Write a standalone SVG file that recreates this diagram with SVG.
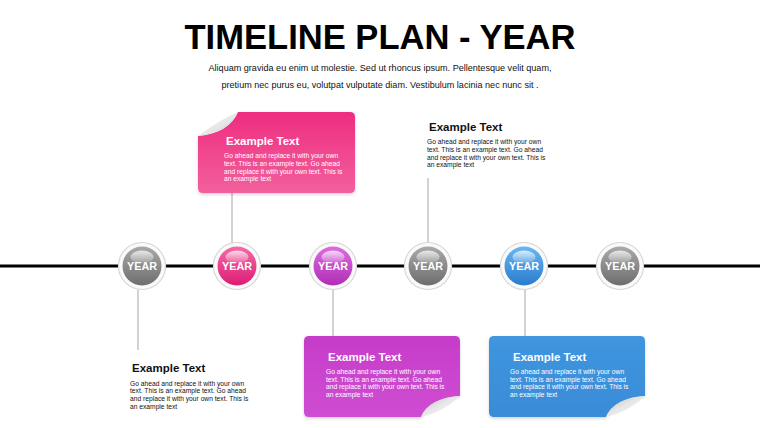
<svg xmlns="http://www.w3.org/2000/svg" width="760" height="428" viewBox="0 0 760 428">
<defs>
<style>
.title{font-family:"Liberation Sans",Arial,sans-serif;font-weight:bold;font-size:34.5px;fill:#000}
.sub{font-family:"Liberation Sans",Arial,sans-serif;font-size:9.3px;fill:#111}
.hd{font-family:"Liberation Sans",Arial,sans-serif;font-weight:bold;font-size:11.5px}
.bd{font-family:"Liberation Sans",Arial,sans-serif;font-size:6.7px}
.w{fill:#fff}
.k{fill:#111}
.yr{font-family:"Liberation Sans",Arial,sans-serif;font-weight:bold;font-size:10.8px;fill:#fff;text-anchor:middle}
.ring{fill:#fafafa;stroke:#d6d6d6;stroke-width:1.2}
.gloss{fill:url(#gloss)}
.conn{stroke:#a6a6a6;stroke-width:1;fill:none}
</style>
<linearGradient id="gGray" x1="0" y1="0" x2="0" y2="1"><stop offset="0" stop-color="#a9a9a9"/><stop offset="1" stop-color="#6e6e6e"/></linearGradient>
<linearGradient id="gPink" x1="0" y1="0" x2="0" y2="1"><stop offset="0" stop-color="#f56aa8"/><stop offset="1" stop-color="#dc1c74"/></linearGradient>
<linearGradient id="gPurple" x1="0" y1="0" x2="0" y2="1"><stop offset="0" stop-color="#dc6ce0"/><stop offset="1" stop-color="#b02eb6"/></linearGradient>
<linearGradient id="gBlue" x1="0" y1="0" x2="0" y2="1"><stop offset="0" stop-color="#68b6f2"/><stop offset="1" stop-color="#2a7ccd"/></linearGradient>
<linearGradient id="gloss" x1="0" y1="0" x2="0" y2="1"><stop offset="0" stop-color="#fff" stop-opacity="0.75"/><stop offset="1" stop-color="#fff" stop-opacity="0.1"/></linearGradient>
<linearGradient id="bPink" x1="0" y1="0" x2="0" y2="1"><stop offset="0" stop-color="#ee2d80"/><stop offset="1" stop-color="#f2609d"/></linearGradient>
<linearGradient id="bPurple" x1="0" y1="0" x2="0" y2="1"><stop offset="0" stop-color="#c63cc9"/><stop offset="1" stop-color="#cf4dd2"/></linearGradient>
<linearGradient id="bBlue" x1="0" y1="0" x2="0" y2="1"><stop offset="0" stop-color="#3f96df"/><stop offset="1" stop-color="#3a8bd7"/></linearGradient>
<linearGradient id="curlTL" x1="0" y1="0" x2="1" y2="1"><stop offset="0" stop-color="#ffffff"/><stop offset="0.6" stop-color="#e4e4e4"/><stop offset="1" stop-color="#b8b8b8"/></linearGradient>
<linearGradient id="curlBR" x1="1" y1="1" x2="0" y2="0"><stop offset="0" stop-color="#ffffff"/><stop offset="0.55" stop-color="#e6e6e6"/><stop offset="1" stop-color="#b5b5b5"/></linearGradient>
<filter id="sh" x="-10%" y="-10%" width="120%" height="130%"><feDropShadow dx="0" dy="1.5" stdDeviation="1.5" flood-color="#000" flood-opacity="0.18"/></filter>
</defs>

<g id="header">
<text class="title" x="380" y="49" text-anchor="middle" textLength="391" lengthAdjust="spacingAndGlyphs">TIMELINE PLAN - YEAR</text>
<text class="sub" x="380" y="71" text-anchor="middle" textLength="343" lengthAdjust="spacingAndGlyphs">Aliquam gravida eu enim ut molestie. Sed ut rhoncus ipsum. Pellentesque velit quam,</text>
<text class="sub" x="380" y="88" text-anchor="middle" textLength="317" lengthAdjust="spacingAndGlyphs">pretium nec purus eu, volutpat vulputate diam. Vestibulum lacinia nec nunc sit .</text>
</g>

<g id="connectors">
<line x1="0" y1="266" x2="760" y2="266" stroke="#000" stroke-width="3"/>
<line class="conn" x1="138" y1="290" x2="138" y2="350"/>
<line class="conn" x1="232" y1="193" x2="232" y2="243"/>
<line class="conn" x1="333" y1="290" x2="333" y2="336"/>
<line class="conn" x1="428" y1="178" x2="428" y2="243"/>
<line class="conn" x1="525" y1="290" x2="525" y2="336"/>
</g>

<g id="year1">
<circle class="ring" cx="142" cy="266" r="23.5"/>
<circle cx="142" cy="266" r="19.5" fill="url(#gGray)"/>
<ellipse class="gloss" cx="142" cy="257" rx="11.5" ry="6.5"/>
<text class="yr" x="142" y="269.5">YEAR</text>
</g>
<g id="year2">
<circle class="ring" cx="237" cy="266" r="23.5"/>
<circle cx="237" cy="266" r="19.5" fill="url(#gPink)"/>
<ellipse class="gloss" cx="237" cy="257" rx="11.5" ry="6.5"/>
<text class="yr" x="237" y="269.5">YEAR</text>
</g>
<g id="year3">
<circle class="ring" cx="333" cy="266" r="23.5"/>
<circle cx="333" cy="266" r="19.5" fill="url(#gPurple)"/>
<ellipse class="gloss" cx="333" cy="257" rx="11.5" ry="6.5"/>
<text class="yr" x="333" y="269.5">YEAR</text>
</g>
<g id="year4">
<circle class="ring" cx="428" cy="266" r="23.5"/>
<circle cx="428" cy="266" r="19.5" fill="url(#gGray)"/>
<ellipse class="gloss" cx="428" cy="257" rx="11.5" ry="6.5"/>
<text class="yr" x="428" y="269.5">YEAR</text>
</g>
<g id="year5">
<circle class="ring" cx="524" cy="266" r="23.5"/>
<circle cx="524" cy="266" r="19.5" fill="url(#gBlue)"/>
<ellipse class="gloss" cx="524" cy="257" rx="11.5" ry="6.5"/>
<text class="yr" x="524" y="269.5">YEAR</text>
</g>
<g id="year6">
<circle class="ring" cx="620" cy="266" r="23.5"/>
<circle cx="620" cy="266" r="19.5" fill="url(#gGray)"/>
<ellipse class="gloss" cx="620" cy="257" rx="11.5" ry="6.5"/>
<text class="yr" x="620" y="269.5">YEAR</text>
</g>

<g id="note1">
<text class="hd k" x="132" y="372">Example Text</text>
<text class="bd k" x="130" y="385.5">Go ahead and replace it with your own</text>
<text class="bd k" x="130" y="393.3">text. This is an example text. Go ahead</text>
<text class="bd k" x="130" y="401.1">and replace it with your own text. This is</text>
<text class="bd k" x="130" y="408.9">an example text</text>
</g>

<g id="note2">
<path d="M238,112 H350 Q355,112 355,117 V188 Q355,193 350,193 H203 Q198,193 198,188 V136 Q229,133 238,112 Z" fill="url(#bPink)" filter="url(#sh)"/>
<path d="M238,112 Q219,120 198,136 Q229,133 238,112 Z" fill="url(#curlTL)"/>
<text class="hd w" x="226" y="144.5">Example Text</text>
<text class="bd w" x="224" y="158.3">Go ahead and replace it with your own</text>
<text class="bd w" x="224" y="166">text. This is an example text. Go ahead</text>
<text class="bd w" x="224" y="173.7">and replace it with your own text. This is</text>
<text class="bd w" x="224" y="181.4">an example text</text>
</g>

<g id="note4">
<text class="hd k" x="429" y="131">Example Text</text>
<text class="bd k" x="427" y="144">Go ahead and replace it with your own</text>
<text class="bd k" x="427" y="151.8">text. This is an example text. Go ahead</text>
<text class="bd k" x="427" y="159.6">and replace it with your own text. This is</text>
<text class="bd k" x="427" y="167.4">an example text</text>
</g>

<g id="note3">
<path d="M309,336 H455 Q460,336 460,341 V396 Q429,398 421,417 H309 Q304,417 304,412 V341 Q304,336 309,336 Z" fill="url(#bPurple)" filter="url(#sh)"/>
<path d="M460,396 Q429,398 421,417 Q444,412 460,396 Z" fill="url(#curlBR)"/>
<text class="hd w" x="328" y="360.5">Example Text</text>
<text class="bd w" x="326" y="374">Go ahead and replace it with your own</text>
<text class="bd w" x="326" y="381.7">text. This is an example text. Go ahead</text>
<text class="bd w" x="326" y="389.4">and replace it with your own text. This is</text>
<text class="bd w" x="326" y="397.1">an example text</text>
</g>

<g id="note5">
<path d="M494,336 H640 Q645,336 645,341 V396 Q614,398 606,417 H494 Q489,417 489,412 V341 Q489,336 494,336 Z" fill="url(#bBlue)" filter="url(#sh)"/>
<path d="M645,396 Q614,398 606,417 Q629,412 645,396 Z" fill="url(#curlBR)"/>
<text class="hd w" x="513" y="360.5">Example Text</text>
<text class="bd w" x="510" y="374">Go ahead and replace it with your own</text>
<text class="bd w" x="510" y="381.7">text. This is an example text. Go ahead</text>
<text class="bd w" x="510" y="389.4">and replace it with your own text. This is</text>
<text class="bd w" x="510" y="397.1">an example text</text>
</g>
</svg>
